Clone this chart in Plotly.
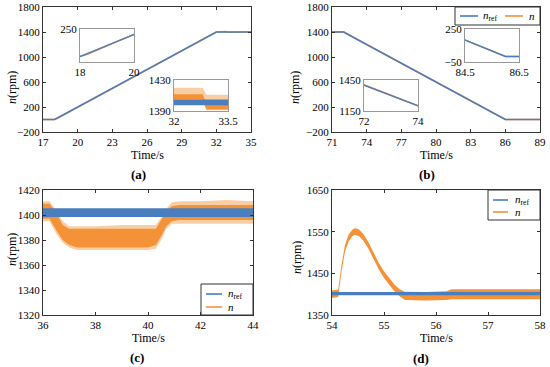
import plotly.graph_objects as go

BLUE = "#4A7EBF"
ORANGE = "#F39237"
ORANGE_LIGHT = "rgba(243,146,55,0.45)"
FONT = "Liberation Serif"

# ---------------- panel (a) ----------------
t_a_ref = [17, 18, 32, 35]
n_a_ref = [0, 0, 1400, 1400]
t_a = [17, 18, 18.3, 18.8, 19.3, 20, 32, 32.8, 33, 35]
n_a = [0, 0, 22, 72, 128, 200, 1400, 1408, 1397, 1400]

# inset a2 (32-33.5 s) bands
t_a2 = [32.0, 32.8, 32.9, 33.5]
a2_up_light = [1420, 1420, 1411, 1411]
a2_lo_light = [1403, 1403, 1391, 1391]
a2_up_dense = [1411.5, 1411.5, 1398.5, 1398.5]
a2_lo_dense = [1405, 1405, 1392, 1392]
t_a2_ref = [32.0, 33.5]
a2_ref_up = [1405, 1405]
a2_ref_lo = [1397.3, 1397.3]

# ---------------- panel (b) ----------------
t_b_ref = [71, 72, 86, 89]
n_b_ref = [1400, 1400, 0, 0]
t_b = [71, 72, 72.5, 74, 86, 89]
n_b = [1400, 1405, 1353, 1200, 0, 0]

# ---------------- panel (c) ----------------
t_c = [36.0, 36.25, 36.5, 36.75, 37.0, 37.3, 38.0, 39.0, 40.0, 40.3, 40.5, 40.7, 40.9, 41.2, 42.0, 43.0, 44.0]
c_up_light = [1411, 1411, 1404, 1395, 1391, 1391, 1391, 1392, 1392, 1392, 1398, 1405, 1410, 1411, 1411, 1412, 1411]
c_lo_light = [1395, 1395, 1385, 1378, 1374, 1372, 1372, 1372, 1372, 1373, 1380, 1389, 1393, 1393, 1393, 1393, 1393]
c_up_dense = [1409, 1409, 1402, 1392, 1389, 1389, 1389, 1389, 1389, 1389, 1396, 1403, 1407, 1408, 1408, 1408, 1408]
c_lo_dense = [1397, 1397, 1388, 1380, 1376, 1374, 1374, 1374, 1374, 1376, 1383, 1391, 1395, 1396, 1396, 1396, 1396]
t_c_ref = [36, 44]
c_ref_up = [1405.5, 1405.5]
c_ref_lo = [1398.5, 1398.5]

# ---------------- panel (d) ----------------
t_d = [54.0, 54.12, 54.18, 54.25, 54.32, 54.4, 54.45, 54.52, 54.6, 54.7, 54.8, 54.9,
       55.0, 55.1, 55.2, 55.3, 55.4, 55.8, 56.2, 56.3, 57.0, 58.0]
d_upper = [1409, 1411, 1468, 1518, 1543, 1556, 1558, 1555, 1545, 1525, 1500, 1475,
           1455, 1438, 1423, 1412, 1406, 1405, 1407, 1412, 1412, 1412]
d_lower = [1391, 1393, 1452, 1502, 1527, 1540, 1542, 1539, 1529, 1509, 1484, 1459,
           1439, 1422, 1407, 1395, 1386, 1385, 1386, 1388, 1388, 1388]
t_d_ref = [54, 58]
d_ref_up = [1405.5, 1405.5]
d_ref_lo = [1397.5, 1397.5]

# tick values
a_xticks = [17, 20, 23, 26, 29, 32, 35]
b_xticks = [71, 74, 77, 80, 83, 86, 89]
ab_yticks = [-200, 200, 600, 1000, 1400, 1800]
c_xticks = [36, 38, 40, 42, 44]
c_yticks = [1320, 1340, 1360, 1380, 1400, 1420]
d_xticks = [54, 55, 56, 57, 58]
d_yticks = [1350, 1450, 1550, 1650]

W, H = 550, 367
fig = go.Figure()


def band(x, up, lo, color, xa, ya):
    fig.add_trace(go.Scatter(x=list(x) + list(x)[::-1], y=list(up) + list(lo)[::-1],
                             fill="toself", fillcolor=color, mode="lines",
                             line=dict(width=0, color=color), hoverinfo="skip",
                             showlegend=False, xaxis=xa, yaxis=ya))


def line(x, y, color, xa, ya, w=1.6):
    fig.add_trace(go.Scatter(x=x, y=y, mode="lines", line=dict(color=color, width=w),
                             showlegend=False, xaxis=xa, yaxis=ya))


# (a) main
line(t_a, n_a, ORANGE, "x", "y")
line(t_a_ref, n_a_ref, BLUE, "x", "y")
# (a) inset 1
line(t_a, n_a, ORANGE, "x5", "y5", 1.4)
line(t_a_ref, n_a_ref, BLUE, "x5", "y5", 1.4)
# (a) inset 2
band(t_a2, a2_up_light, a2_lo_light, ORANGE_LIGHT, "x6", "y6")
band(t_a2, a2_up_dense, a2_lo_dense, ORANGE, "x6", "y6")
band(t_a2_ref, a2_ref_up, a2_ref_lo, BLUE, "x6", "y6")
# (b) main
line(t_b, n_b, ORANGE, "x2", "y2")
line(t_b_ref, n_b_ref, BLUE, "x2", "y2")
# (b) insets
line(t_b, n_b, ORANGE, "x7", "y7", 1.4)
line(t_b_ref, n_b_ref, BLUE, "x7", "y7", 1.4)
line(t_b, n_b, ORANGE, "x8", "y8", 1.4)
line(t_b_ref, n_b_ref, BLUE, "x8", "y8", 1.4)
# (c)
band(t_c, c_up_light, c_lo_light, ORANGE_LIGHT, "x3", "y3")
band(t_c, c_up_dense, c_lo_dense, ORANGE, "x3", "y3")
band(t_c_ref, c_ref_up, c_ref_lo, BLUE, "x3", "y3")
# (d)
band(t_d, d_upper, d_lower, ORANGE, "x4", "y4")
band(t_d_ref, d_ref_up, d_ref_lo, BLUE, "x4", "y4")

tf = dict(family=FONT, size=11, color="black")


def px_x(p):
    return p / W


def px_y(p):
    return 1 - p / H


def main_axes(xd, yd, xr, yr, xt, yt, xname, yname, xa, ya):
    common = dict(showline=True, linecolor="#333", linewidth=1, mirror="ticks",
                  ticks="inside", ticklen=3, tickcolor="#333", showgrid=False,
                  zeroline=False, tickfont=tf, fixedrange=True, automargin=False)
    fig.layout[xname] = dict(domain=xd, range=xr, tickvals=xt, anchor=ya, **common)
    fig.layout[yname] = dict(domain=yd, range=yr, tickvals=yt, anchor=xa, **common)


def inset_axes(xd, yd, xr, yr, xt, yt, xname, yname, xa, ya):
    common = dict(showline=True, linecolor="#999", linewidth=1, mirror=True,
                  ticks="", showgrid=False, zeroline=False, tickfont=tf,
                  fixedrange=True, automargin=False)
    fig.layout[xname] = dict(domain=xd, range=xr, tickvals=xt, anchor=ya, **common)
    fig.layout[yname] = dict(domain=yd, range=yr, tickvals=yt, anchor=xa, **common)


main_axes([px_x(43), px_x(251)], [px_y(132), px_y(7)], [17, 35], [-200, 1800], a_xticks, ab_yticks, "xaxis", "yaxis", "x", "y")
main_axes([px_x(332), px_x(540)], [px_y(132), px_y(7)], [71, 89], [-200, 1800], b_xticks, ab_yticks, "xaxis2", "yaxis2", "x2", "y2")
main_axes([px_x(43), px_x(253)], [px_y(315), px_y(190)], [36, 44], [1320, 1420], c_xticks, c_yticks, "xaxis3", "yaxis3", "x3", "y3")
main_axes([px_x(332), px_x(540)], [px_y(315), px_y(190)], [54, 58], [1350, 1650], d_xticks, d_yticks, "xaxis4", "yaxis4", "x4", "y4")

inset_axes([px_x(80), px_x(134)], [px_y(62), px_y(29)], [18, 20], [-50, 250], [18, 20], [250], "xaxis5", "yaxis5", "x5", "y5")
inset_axes([px_x(174), px_x(228)], [px_y(111), px_y(80)], [32, 33.5], [1390, 1430], [32, 33.5], [1390, 1430], "xaxis6", "yaxis6", "x6", "y6")
inset_axes([px_x(465), px_x(519)], [px_y(62), px_y(29)], [84.5, 86.5], [-50, 250], [84.5, 86.5], [-50, 250], "xaxis7", "yaxis7", "x7", "y7")
inset_axes([px_x(364), px_x(418)], [px_y(111), px_y(80)], [72, 74], [1150, 1450], [72, 74], [1150, 1450], "xaxis8", "yaxis8", "x8", "y8")

# ---- legends (boxes with line keys and labels, in pixel layout) ----
NREF = "<i>n</i><sub>ref</sub>"
NN = "<i>n</i>"
shapes = []
ann = []


def legend_box(x0, y0, x1, y1):
    shapes.append(dict(type="rect", xref="paper", yref="paper", x0=px_x(x0), x1=px_x(x1),
                       y0=px_y(y1), y1=px_y(y0), line=dict(color="#333", width=1),
                       fillcolor="white", layer="above"))


def legend_item(lx0, lx1, ly, color, text, tx):
    shapes.append(dict(type="line", xref="paper", yref="paper", x0=px_x(lx0), x1=px_x(lx1),
                       y0=px_y(ly), y1=px_y(ly), line=dict(color=color, width=1.6), layer="above"))
    ann.append(dict(x=px_x(tx), y=px_y(ly), xref="paper", yref="paper", text=text,
                    showarrow=False, font=dict(family=FONT, size=11, color="black"),
                    xanchor="left", yanchor="middle"))


legend_box(455, 7, 540, 25)
legend_item(460, 478, 16, BLUE, NREF, 481)
legend_item(505, 523, 16, ORANGE, NN, 527)

legend_box(201, 284, 253, 315)
legend_item(206, 222, 294, BLUE, NREF, 226)
legend_item(206, 222, 307, ORANGE, NN, 226)

legend_box(488, 190, 540, 220)
legend_item(493, 508, 200, BLUE, NREF, 513)
legend_item(493, 508, 212, ORANGE, NN, 513)

afont = dict(family=FONT, size=12, color="black")
for x, y in [(147, 155), (436, 155), (148, 338), (436, 338)]:
    ann.append(dict(x=px_x(x), y=px_y(y), xref="paper", yref="paper", text="Time/s", showarrow=False,
                    font=afont, xanchor="center", yanchor="middle"))
for x, y in [(12, 88), (295, 88), (12, 250), (297, 258)]:
    ann.append(dict(x=px_x(x), y=px_y(y), xref="paper", yref="paper", text="<i>n</i>(rpm)", showarrow=False,
                    font=afont, textangle=-90, xanchor="center", yanchor="middle"))
for txt, x, y in [("(a)", 138, 174), ("(b)", 427, 174), ("(c)", 137, 357), ("(d)", 421, 358)]:
    ann.append(dict(x=px_x(x), y=px_y(y), xref="paper", yref="paper", text="<b>" + txt + "</b>", showarrow=False,
                    font=dict(family=FONT, size=13, color="black"), xanchor="center", yanchor="middle"))

fig.update_layout(
    template="none",
    font=dict(family=FONT, size=11, color="black"),
    width=W, height=H, margin=dict(l=0, r=0, t=0, b=0, autoexpand=False),
    paper_bgcolor="white", plot_bgcolor="white", showlegend=False,
    shapes=shapes, annotations=ann,
)

fig.write_html("out.html", config={"displayModeBar": False},
               post_script="document.body.style.margin='0px';")
